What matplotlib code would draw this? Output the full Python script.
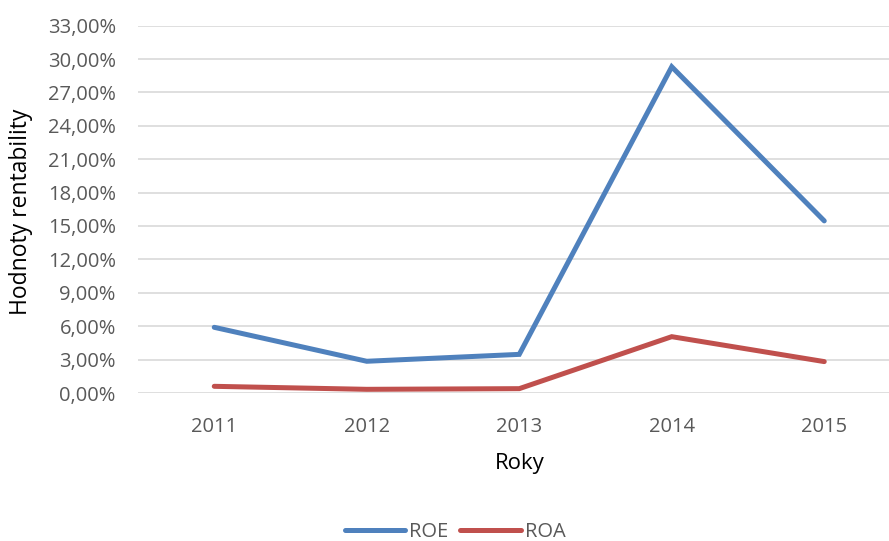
import matplotlib
matplotlib.use("Agg")
import matplotlib.pyplot as plt
from matplotlib.ticker import FuncFormatter, MultipleLocator

years = ["2011", "2012", "2013", "2014", "2015"]
roe = [5.90, 2.85, 3.47, 29.30, 15.46]
roa = [0.60, 0.33, 0.39, 5.06, 2.82]

plt.rcParams["font.family"] = ["Open Sans", "DejaVu Sans"]

figure = plt.figure(figsize=(8.89, 5.41), dpi=100)
ax = figure.add_axes([138 / 889, 1 - 393 / 541, 762.5 / 889, (393 - 25.6) / 541])

x = range(1, len(years) + 1)
ax.plot(x, roe, color="#4F81BD", linewidth=3.6, solid_capstyle="round", solid_joinstyle="miter", label="ROE")
ax.plot(x, roa, color="#C0504D", linewidth=3.6, solid_capstyle="round", solid_joinstyle="miter", label="ROA")

ax.set_xlim(0.5, 5.5)
ax.set_ylim(0, 33)
ax.yaxis.set_major_locator(MultipleLocator(3))
ax.yaxis.set_major_formatter(FuncFormatter(lambda v, p: f"{v:.2f}".replace(".", ",") + "%"))
ax.set_xticks(list(x))
ax.set_xticklabels(years)

ax.grid(axis="y", color="#D9D9D9", linewidth=1.2)
ax.set_axisbelow(True)
for spine in ax.spines.values():
    spine.set_visible(False)
ax.tick_params(axis="both", length=0, labelsize=14.5, colors="#595959")
ax.tick_params(axis="x", pad=17)
ax.tick_params(axis="y", pad=16)

ax.set_xlabel("Roky", fontsize=16, color="black")
ax.xaxis.set_label_coords(520 / 889, 1 - 463 / 541, transform=figure.transFigure)
ax.set_ylabel("Hodnoty rentability", fontsize=16.5, color="black")
ax.yaxis.set_label_coords(21 / 889, 1 - 212 / 541, transform=figure.transFigure)
ax.xaxis.label.set_va("center")
ax.yaxis.label.set_va("center")

legend = figure.legend(loc="center", bbox_to_anchor=(455 / 889, 1 - 532 / 541), ncol=2, frameon=False,
                       fontsize=14.5, handlelength=3.0, columnspacing=0.6, handletextpad=0.2)
for text in legend.get_texts():
    text.set_color("#595959")

plt.savefig("out.png", dpi=100, facecolor="white")
plt.close()
